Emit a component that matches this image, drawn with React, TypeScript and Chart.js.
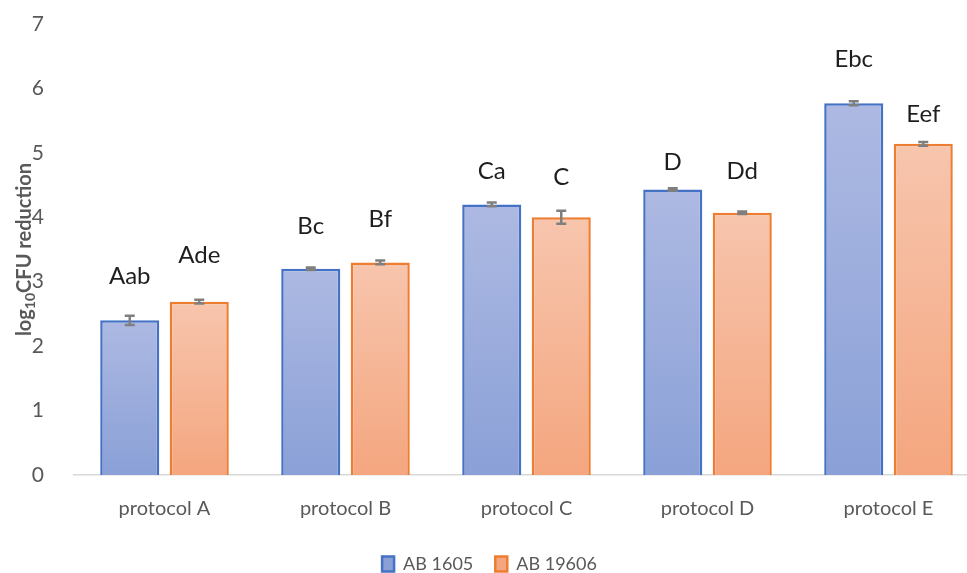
import React, { useEffect, useRef } from "react";
import { Chart, registerables } from "chart.js";

Chart.register(...registerables);

const categories = ["protocol A", "protocol B", "protocol C", "protocol D", "protocol E"];
const ab1605 = [2.4, 3.2, 4.2, 4.43, 5.77];
const ab19606 = [2.69, 3.3, 4.0, 4.07, 5.14];
const err1605 = [0.07, 0.02, 0.03, 0.02, 0.03];
const err19606 = [0.03, 0.03, 0.1, 0.02, 0.03];
const letters1605 = ["Aab", "Bc", "Ca", "D", "Ebc"];
const letters19606 = ["Ade", "Bf", "C", "Dd", "Eef"];
const letterY1605 = [2.96, 3.74, 4.59, 4.73, 6.33];
const letterY19606 = [3.29, 3.85, 4.5, 4.59, 5.48];
const yTicks = [0, 1, 2, 3, 4, 5, 6, 7];

const FONT = 'Lato, "Noto Sans", sans-serif';
const GRAY = "#595959";

function barGradient(top: string, bottom: string, fallback: string) {
  return (ctx: any) => {
    const chart = ctx.chart;
    const area = chart.chartArea;
    const y = chart.scales && chart.scales.y;
    if (!area || !y || typeof ctx.raw !== "number") return fallback;
    const yt = y.getPixelForValue(ctx.raw);
    const yb = y.getPixelForValue(0);
    if (!isFinite(yt) || !isFinite(yb) || yb - yt < 1) return fallback;
    const g = chart.ctx.createLinearGradient(0, yt, 0, yb);
    g.addColorStop(0, top);
    g.addColorStop(1, bottom);
    return g;
  };
}

const errorBarPlugin = {
  id: "errorBars",
  afterDatasetsDraw(chart: any) {
    const ctx = chart.ctx;
    const y = chart.scales.y;
    const errs = [err1605, err19606];
    ctx.save();
    ctx.strokeStyle = "#7f7f7f";
    ctx.lineWidth = 2.5;
    chart.data.datasets.forEach((ds: any, i: number) => {
      const meta = chart.getDatasetMeta(i);
      meta.data.forEach((bar: any, j: number) => {
        const v = ds.data[j];
        const e = errs[i][j];
        const x = bar.x;
        const yt = y.getPixelForValue(v + e);
        const yb = y.getPixelForValue(v - e);
        ctx.beginPath();
        ctx.moveTo(x, yt);
        ctx.lineTo(x, yb);
        ctx.moveTo(x - 5, yt);
        ctx.lineTo(x + 5, yt);
        ctx.moveTo(x - 5, yb);
        ctx.lineTo(x + 5, yb);
        ctx.stroke();
      });
    });
    ctx.restore();
  },
};

const letterPlugin = {
  id: "letters",
  afterDatasetsDraw(chart: any) {
    const ctx = chart.ctx;
    const y = chart.scales.y;
    const letters = [letters1605, letters19606];
    const ys = [letterY1605, letterY19606];
    ctx.save();
    ctx.fillStyle = "#1e1e1e";
    ctx.font = `24px ${FONT}`;
    ctx.textAlign = "center";
    ctx.textBaseline = "alphabetic";
    chart.data.datasets.forEach((_ds: any, i: number) => {
      const meta = chart.getDatasetMeta(i);
      meta.data.forEach((bar: any, j: number) => {
        ctx.fillText(letters[i][j], bar.x, y.getPixelForValue(ys[i][j]));
      });
    });
    ctx.restore();
  },
};

const yTitlePlugin = {
  id: "yTitle",
  afterDraw(chart: any) {
    const ctx = chart.ctx;
    const area = chart.chartArea;
    const cy = (area.top + area.bottom) / 2;
    const cx = 25;
    const mainFont = `bold 20px ${FONT}`;
    const subFont = `bold 14px ${FONT}`;
    const p1 = "log";
    const p2 = "10";
    const p3 = "CFU reduction";
    ctx.save();
    ctx.font = mainFont;
    const w1 = ctx.measureText(p1).width;
    const w3 = ctx.measureText(p3).width;
    ctx.font = subFont;
    const w2 = ctx.measureText(p2).width;
    const total = w1 + w2 + w3;
    ctx.translate(cx, cy);
    ctx.rotate(-Math.PI / 2);
    ctx.fillStyle = GRAY;
    ctx.textAlign = "left";
    ctx.textBaseline = "middle";
    let x = -total / 2;
    ctx.font = mainFont;
    ctx.fillText(p1, x, 0);
    x += w1;
    ctx.font = subFont;
    ctx.fillText(p2, x, 5);
    x += w2;
    ctx.font = mainFont;
    ctx.fillText(p3, x, 0);
    ctx.restore();
  },
};

export default function App() {
  const ref = useRef<HTMLCanvasElement | null>(null);

  useEffect(() => {
    if (!ref.current) return;
    Chart.defaults.font.family = FONT;
    const chart = new Chart(ref.current, {
      type: "bar",
      data: {
        labels: categories,
        datasets: [
          {
            label: "AB 1605",
            data: ab1605,
            backgroundColor: barGradient("#adb9e2", "#8aa0d7", "#9aaddc"),
            borderColor: "#4472c4",
            borderWidth: 2.5,
            categoryPercentage: 0.768,
            barPercentage: 0.85,
          },
          {
            label: "AB 19606",
            data: ab19606,
            backgroundColor: barGradient("#f7c5ad", "#f4a67f", "#f5b594"),
            borderColor: "#ed7d31",
            borderWidth: 2.5,
            categoryPercentage: 0.768,
            barPercentage: 0.85,
          },
        ],
      },
      options: {
        responsive: false,
        animation: false,
        devicePixelRatio: 1,
        layout: { padding: { top: 24, left: 0, right: 0, bottom: 0 } },
        plugins: {
          legend: {
            position: "bottom",
            labels: {
              color: GRAY,
              font: { size: 18, family: FONT },
              boxWidth: 12,
              boxHeight: 15,
              padding: 22,
            },
          },
          tooltip: { enabled: false },
        },
        scales: {
          x: {
            grid: { display: false },
            border: { display: true, color: "#d9d9d9", width: 1.5 },
            ticks: { color: GRAY, font: { size: 20, family: FONT }, padding: 14 },
            afterFit: (s: any) => {
              s.height = 58;
            },
          },
          y: {
            min: 0,
            max: 7,
            grid: { display: false },
            border: { display: false },
            afterBuildTicks: (s: any) => {
              s.ticks = yTicks.map((v) => ({ value: v }));
            },
            ticks: { color: GRAY, font: { size: 21, family: FONT }, padding: 22, stepSize: 1 },
            afterFit: (s: any) => {
              s.width = 74;
              s.paddingTop = 0;
              s.paddingBottom = 0;
            },
          },
        },
      },
      plugins: [errorBarPlugin, letterPlugin, yTitlePlugin],
    });
    return () => chart.destroy();
  }, []);

  return (
    <div
      style={{
        position: "absolute",
        left: 0,
        top: 0,
        width: 967,
        height: 573,
        overflow: "hidden",
        background: "#ffffff",
      }}
    >
      <canvas ref={ref} width={979} height={583} style={{ display: "block", width: 979, height: 583 }} />
    </div>
  );
}
